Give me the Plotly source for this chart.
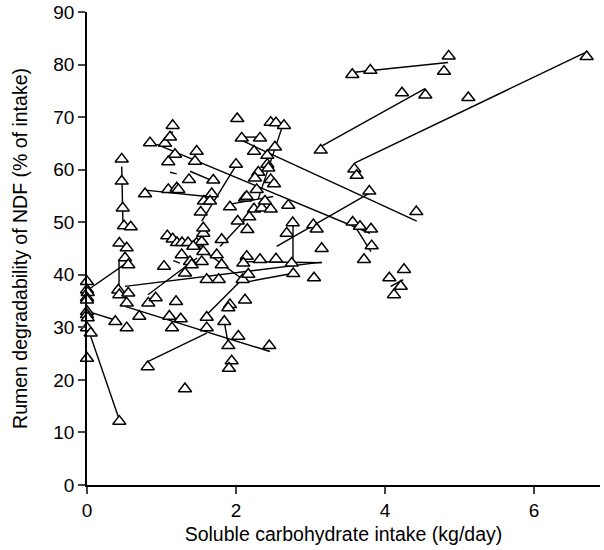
import plotly.graph_objects as go

# Observed points: soluble carbohydrate intake (kg/day) vs rumen NDF degradability (% of intake)
carb_intake = [
    0.00, 0.00, 0.01, 0.00, 0.00, 0.00, 0.00, 0.01, 0.00, 0.05, 0.00,
    0.466, 0.466, 0.479, 0.497, 0.587, 0.434, 0.533, 0.510, 0.554, 0.420, 0.434, 0.554, 0.533, 0.380, 0.533, 0.434,
    0.846, 1.047, 1.114, 1.150, 1.181, 1.091, 0.779, 1.091, 1.204, 1.226, 1.369, 1.472, 1.450,
    1.078, 1.150, 1.208, 1.275, 1.356, 1.271, 1.034, 1.315, 1.383, 1.405,
    0.823, 0.922, 1.195, 0.702, 1.105, 1.258, 1.141, 0.815, 1.315,
    1.695, 1.674, 1.570, 1.651, 1.526, 1.472, 1.540, 1.561, 1.561, 1.427, 1.561, 1.540,
    1.741, 1.808, 1.808, 1.607, 1.768, 1.607, 1.607, 1.843, 1.919, 1.897, 1.897, 1.942, 1.906,
    2.017, 2.077, 2.000, 1.919, 2.023,
    2.322, 2.242, 2.299, 2.255, 2.278, 2.420, 2.420, 2.434, 2.466, 2.537, 2.644, 2.523, 2.466, 2.510,
    2.121, 2.144, 2.242, 2.345, 2.466, 2.389, 2.178, 2.152, 2.702, 2.761, 2.681,
    2.144, 2.322, 2.537, 2.748, 2.769, 2.098, 2.090, 2.165, 2.121, 2.031, 2.447,
    3.038, 3.083, 3.150, 3.047, 3.137, 3.561, 3.803, 4.855, 4.792, 4.228, 4.541, 5.118, 6.707,
    3.588, 3.620, 3.789, 4.420, 3.566, 3.664, 3.812, 3.821, 3.718, 4.058, 4.255, 4.211, 4.121,
]
ndf_degradability = [
    38.7, 37.1, 36.6, 35.6, 35.2, 33.0, 32.4, 31.8, 29.9, 28.9, 24.1,
    62.0, 57.8, 52.7, 49.3, 49.1, 46.0, 45.1, 43.2, 41.9, 37.1, 36.2, 36.5, 34.6, 31.1, 29.9, 12.1,
    65.1, 65.0, 66.2, 68.4, 62.9, 61.5, 55.4, 56.2, 56.5, 56.2, 58.1, 63.5, 61.6,
    47.4, 46.8, 46.1, 46.1, 46.1, 43.8, 41.6, 40.3, 42.5, 41.9,
    34.6, 35.6, 34.9, 32.1, 32.1, 31.6, 29.9, 22.5, 18.3,
    58.0, 55.4, 54.0, 54.0, 51.9, 46.0, 46.3, 47.9, 48.9, 45.4, 44.4, 42.5,
    43.8, 41.9, 46.7, 39.1, 39.1, 31.9, 29.9, 31.1, 34.3, 33.7, 26.5, 23.6, 22.2,
    69.7, 66.0, 61.0, 52.9, 50.2,
    66.0, 63.5, 59.5, 58.4, 56.2, 62.7, 61.0, 60.3, 69.0, 68.9, 68.4, 64.3, 58.1, 57.3,
    54.6, 54.9, 52.5, 52.7, 52.5, 54.0, 51.0, 48.6, 53.2, 49.9, 47.9,
    43.5, 42.9, 43.0, 42.2, 40.2, 42.2, 39.1, 40.1, 35.2, 28.3, 26.5,
    49.5, 48.7, 45.0, 39.4, 63.7, 78.1, 78.9, 81.6, 78.7, 74.6, 74.2, 73.7, 81.5,
    60.1, 58.9, 55.9, 52.0, 50.0, 49.2, 48.7, 45.5, 42.9, 39.4, 41.0, 37.8, 36.2,
]

# Within-study fitted lines: start and end of each segment
line_x0 = [0.01, 0.02, 0.02, 0.51, 0.466, 0.43, 0.51, 0.819, 0.823, 1.607, 2.165, 2.765,
           2.546, 1.830, 1.423, 1.785, 1.540, 0.936, 2.054, 0.779, 1.383, 1.114, 1.150,
           2.098, 2.617, 1.942, 3.137, 3.557, 3.597, 3.597, 4.077, 2.085, 1.158]
line_y0 = [37.1, 29.5, 33.0, 34.0, 60.6, 42.9, 37.8, 36.2, 23.5, 32.4, 38.7, 49.5,
           45.4, 32.1, 46.1, 45.4, 50.2, 64.8, 65.7, 56.1, 59.7, 59.5, 67.3,
           66.2, 68.0, 53.5, 64.4, 78.5, 61.3, 49.2, 37.8, 42.5, 42.7]
line_x1 = [0.577, 0.434, 0.376, 2.456, 0.483, 0.43, 3.150, 1.477, 1.607, 2.188, 2.769, 2.765,
           3.799, 1.897, 2.094, 2.144, 2.009, 3.799, 4.426, 1.674, 1.695, 1.204, 1.060,
           2.322, 2.295, 2.500, 4.537, 4.846, 6.707, 3.812, 4.246, 3.150, 1.248]
line_y1 = [42.7, 12.4, 31.4, 25.4, 49.2, 36.6, 42.4, 43.2, 28.9, 40.6, 40.3, 42.5,
           55.6, 26.7, 39.1, 50.8, 61.0, 47.9, 50.2, 54.8, 57.8, 59.2, 65.1,
           66.2, 54.3, 54.9, 75.4, 80.4, 82.4, 44.4, 39.1, 42.3, 42.2]

x_ticks = [0, 2, 4, 6]
y_ticks = [0, 10, 20, 30, 40, 50, 60, 70, 80, 90]

seg_x, seg_y = [], []
for a, b, c, d in zip(line_x0, line_y0, line_x1, line_y1):
    seg_x += [a, c, None]
    seg_y += [b, d, None]

fig = go.Figure()
fig.add_trace(go.Scatter(x=seg_x, y=seg_y, mode="lines",
                         line=dict(color="black", width=1.4),
                         hoverinfo="skip", showlegend=False, cliponaxis=False))
fig.add_trace(go.Scatter(x=carb_intake, y=ndf_degradability, mode="markers",
                         marker=dict(symbol="triangle-up", size=11.5, color="white",
                                     line=dict(color="black", width=1.5)),
                         showlegend=False, cliponaxis=False))

tick_font = dict(family="Liberation Sans, Arial, sans-serif", size=19, color="black")
title_font = dict(family="Liberation Sans, Arial, sans-serif", size=19.5, color="black")
fig.update_layout(
    width=604, height=550,
    margin=dict(l=87, r=4, t=12, b=65),
    paper_bgcolor="white", plot_bgcolor="white",
    font=title_font,
    xaxis=dict(range=[0, 6.886], tickvals=x_ticks, ticks="outside", ticklen=7, tickwidth=1.5,
               showline=True, linecolor="black", linewidth=1.5, showgrid=False, zeroline=False,
               automargin=False,
               title=dict(text="Soluble carbohydrate intake (kg/day)", standoff=8, font=title_font),
               tickfont=tick_font),
    yaxis=dict(range=[0, 90], tickvals=y_ticks, ticks="outside", ticklen=7, tickwidth=1.5,
               showline=True, linecolor="black", linewidth=1.5, showgrid=False, zeroline=False,
               automargin=False,
               title=dict(text="Rumen degradability of NDF (% of intake)", standoff=20, font=title_font),
               tickfont=tick_font),
)

fig.write_html("out.html", config={"displayModeBar": False},
               post_script="document.body.style.margin='0px';")
